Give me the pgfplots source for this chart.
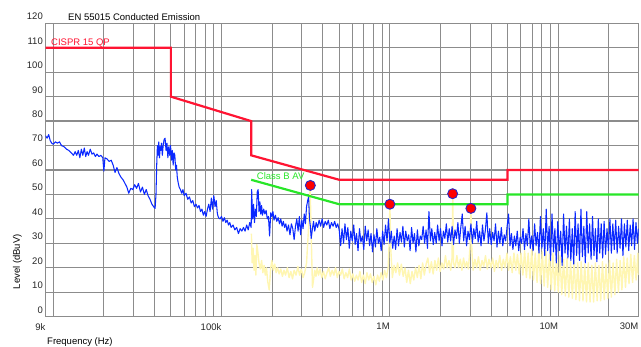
\documentclass[border=0pt]{standalone}
\usepackage{pgfplots}
\pgfplotsset{compat=1.18}
\usepackage{pgfplotstable}
\usepackage{fontspec}
\setmainfont{Liberation Sans}
\definecolor{limred}{RGB}{255,20,50}
\definecolor{limgreen}{RGB}{40,230,40}
\definecolor{trblue}{RGB}{10,40,255}
\definecolor{tryellow}{RGB}{255,246,178}
\definecolor{gridgray}{RGB}{140,140,140}
\definecolor{mkblue}{RGB}{40,40,200}

% frequency in kHz, level in dBuV
\pgfplotstableread{
f L
9 74
9.2 73
9.4 74.5
9.6 72
9.8 71
10.0 70.5
10.3 71.5
10.6 71
10.9 71.5
11.2 70
11.6 69.5
12.0 68.5
12.4 68
12.8 67
13.2 66
13.5 67.5
13.8 66
14.1 68
14.4 65
14.7 68.5
15.0 66
15.3 69
15.6 65.5
15.9 67.5
16.2 66
16.6 68.5
17.0 66.5
17.4 67
17.8 65.5
18.2 66.5
18.7 65.5
19.2 66
19.7 65
20.0 59.5
20.3 65
20.9 64.5
21.5 63.5
22.1 64
22.7 62
23.3 59
23.9 61
24.6 58.5
25.3 57
26.0 56
26.7 54.5
27.4 53
28.1 50.5
28.9 52.5
29.7 52
30.5 54
31.3 52.5
32.1 54.5
33.0 51
33.9 53
34.8 50
35.7 52
36.6 49.5
37.6 48
38.6 46
39.5 45
40.3 44.3
40.8 50
41.2 62
41.6 70
42.0 66
42.4 71.5
42.8 65
43.2 69.5
43.6 68
44.0 71
44.5 66
45.0 70
45.6 72.5
46.2 73
46.8 68
47.4 71
48.0 65
48.6 69.5
49.2 66
49.8 70
50.4 64
51.0 68
51.6 62
52.2 67
52.8 66
53.4 60
54.0 62
54.6 57
55.2 55
56.0 53
57.0 52
58.0 50.5
59.0 52
60.0 49.5
61.5 50.5
63.0 48
64.5 49
66.0 46.5
67.5 47.5
69.0 45
70.5 46
72.0 44.5
73.5 45.5
75.0 43
76.5 44
78.0 41.5
79.5 43
81.0 41
82.5 44
84.0 46
85.5 43
87.0 48.5
88.5 44
90.0 49.5
91.5 45
93.0 47.5
94.5 42
96.0 40.5
98.0 40
100 41
102 39
104 40.5
106 38.5
108 39.5
110 37.5
112 38.5
114 36.5
117 37.5
120 35.5
123 36.5
126 34
129 36
132 35
135 36.5
138 35
141 37.5
144 35.5
147 38.5
150 36.5
151 52
153 40
155 46
157 38.5
159 44
161 41
163 51
165 52
167 43
169 47
171 42
173 45.5
175 41.5
178 44
181 42
184 43.5
187 40
190 41
193 33
196 42.5
199 41
202 43
205 39.5
209 41.5
213 39
217 40.5
221 38
225 40
229 37
233 39
237 36.5
241 38
245 35
250 37.5
255 33.5
260 38
265 36
270 31.5
275 37
280 40
285 35
290 41
295 33.5
300 39.5
305 36
310 42
315 38
320 45
325 47.5
329 49
333 40
337 37
341 32
346 35.5
352 39
358 35
365 38.5
372 36.5
380 39.5
388 37
396 40
404 36.5
413 39
422 37.5
431 39.5
440 36
450 38.5
460 37
470 39
480 36.5
490 38
500 35.5
510 29
520 36
531 30
541 38
552 31.5
563 36.5
574 28
586 35
598 31
610 37.5
622 29.5
634 34
647 27
660 36
673 30.5
687 33
700 27.5
714 37
729 31
743 35.5
758 29
773 34
789 26.5
805 33.5
821 28.5
837 36
854 30
871 32.5
888 27
906 35
924 29.5
943 37.5
962 31
981 40
1000 30
1020 35
1040 28
1061 33
1082 27.5
1104 36
1126 29
1149 34.5
1172 30.5
1195 37
1219 28.5
1243 35
1268 31
1294 33.5
1319 27
1346 36.5
1373 30
1400 34
1428 26.5
1457 35.5
1486 29
1516 33
1546 31.5
1577 37
1608 30
1641 35.5
1673 28
1707 43
1741 31
1776 36
1811 29.5
1848 34.5
1885 30
1922 37.5
1961 31
2000 36
2040 29
2081 35
2122 32
2165 38
2208 30.5
2252 36
2297 31
2343 37
2390 29.5
2438 35.5
2487 32
2536 38.5
2587 30
2639 36.5
2692 42
2745 31
2800 37
2856 29
2913 35
2972 31.5
3031 38
3092 30
3153 36
3216 32
3281 39
3346 30.5
3413 35
3482 29
3551 37.5
3622 31
3695 35.5
3769 42.5
3844 30
3921 36
4000 29.5
4080 34.5
4161 31
4245 38
4330 28.5
4416 35
4505 30
4595 36.5
4687 29
4780 33.5
4876 31
4973 37
5073 42
5174 29
5278 34
5383 27.5
5491 33
5601 29
5713 35
5827 27
5944 32.5
6062 30
6184 36
6307 27.5
6433 34
6562 29
6693 40
6827 28
6964 33
7103 27
7245 38
7390 29
7538 34.5
7689 26
7842 41
7999 28
8159 36
8322 25
8489 44
8659 27
8832 37
9009 23
9189 42
9373 26.5
9560 36
9751 22
9946 39
10145 27
10348 35
10555 21
10766 42
10982 26
11201 37
11425 24
11654 40
11887 23
12125 36
12367 21.5
12615 43
12867 25
13124 38
13387 23
13654 44
13928 24.5
14206 37
14490 22
14780 43
15076 26
15377 38
15685 23.5
15998 41
16318 25
16645 36
16977 22.5
17317 40
17663 26
18017 38
18377 24
18744 39
19119 25.5
19502 36
19892 27
20290 40
20696 26
21109 38
21532 27.5
21962 39.5
22402 26
22850 37
23307 28
23773 40
24248 25
24733 38
25228 28.5
25733 39.5
26247 27
26772 37.5
27308 29
27854 40
28411 27.5
28979 38.5
29559 30
30000 36
}\bluetrace

\pgfplotstableread{
f L
150.5 34
152 22
154 28
156 19
158 25
160 17
162 29.5
164 27
167 22
170 19.5
173 23
176 18
179 21
182 17
185 20
188 14.5
192 11
196 20
199 23
203 19
207 21.5
211 18
215 20
220 17.5
225 19.5
230 16.5
235 19
240 17
246 20
252 16
258 18.5
264 15.5
270 19
277 17
284 20.5
291 17
298 19.5
305 16
312 18
320 22
328 35
336 53
342 30
347 12
352 15
358 19
364 16.5
370 20
377 17
385 19.5
394 16
403 18.5
413 15.5
423 18
433 20
443 16.5
454 19
465 17
476 20
487 16
498 18.5
510 17
522 19.5
535 15.5
548 18
561 16
575 19.5
589 15
603 17.5
618 14.5
633 17
648 15
664 18.5
680 14
697 17
714 13.5
731 18
749 15
767 17.5
786 14
805 16.5
825 13
845 17
866 14.5
887 18
909 15
931 19
954 16
977 20
990 30
1000 46
1012 28
1035 16
1060 21
1085 18
1112 22
1140 17
1170 21.5
1200 16.5
1230 20
1260 14
1290 19
1322 13.5
1354 18.5
1387 15
1421 20
1456 16
1491 21
1528 15.5
1565 22
1603 17
1642 21.5
1682 24
1723 18
1765 22.5
1808 17.5
1852 23
1897 19
1943 24
1990 18.5
2039 22
2088 19.5
2139 25
2191 20
2245 23
2299 19
2340 24
2365 50
2390 22
2440 20
2500 25
2560 20
2620 23.5
2680 19
2740 24
2800 20
2860 22.5
2930 19.5
2990 28
3030 44
3070 27
3120 19
3200 23.5
3280 20
3360 24.5
3440 19
3530 23
3610 20.5
3700 25
3790 19.5
3880 23.5
3980 20
4080 24
4180 18.5
4280 23
4390 20
4500 25
4610 19
4720 23.5
4840 20
4960 26
5080 19
5200 24.5
5330 18
5460 26
5600 19
5730 25.5
5870 17.5
6020 26
6170 17
6320 27
6470 16
6630 26
6800 15.5
6960 27.5
7130 15
7310 26
7490 14
7670 28
7860 13.5
8050 26.5
8250 12.5
8450 27
8660 12
8870 25.5
9090 11
9310 26
9540 10.5
9770 24.5
10010 10
10250 25
10500 9
10760 23.5
11020 8.5
11290 24
11570 8
11850 22.5
12140 7.5
12440 23
12750 7
13060 22
13380 6.5
13700 22.5
14040 6.5
14380 21.5
14730 6
15090 22
15460 6
15840 21
16230 6
16630 22
17040 6.5
17460 21
17890 6.5
18330 22.5
18780 7
19240 21.5
19710 7.5
20190 23
20690 8
21190 22
21710 9
22240 23.5
22790 10
23350 23
23920 11
24510 24.5
25110 12
25720 24
26350 13.5
27000 25.5
27660 14
28340 25
29030 15
29740 26
30000 17
}\yellowtrace

\newcommand{\lblfont}{\fontsize{9.5bp}{11bp}\selectfont}

\begin{document}
\begin{tikzpicture}
\path[use as bounding box] (-45.5bp,-30.3bp) rectangle (595.5bp,316.7bp);
\begin{axis}[
  at={(0,0)}, anchor=south west,
  scale only axis, width=593bp, height=293.4bp,
  xmode=log, xmin=9, xmax=30000, ymin=0, ymax=120,
  xtick={9,100,1000,10000,30000},
  xticklabels={9k,100k,1M,10M,30M},
  minor xtick={10,20,30,40,50,60,70,80,90,200,300,400,500,600,700,800,900,2000,3000,4000,5000,6000,7000,8000,9000,20000},
  ytick={0,10,20,30,40,50,60,70,80,90,100,110,120},
  grid=both,
  major grid style={gridgray, line width=1.2bp},
  minor grid style={gridgray, line width=1.2bp},
  axis line style={gridgray, line width=1.2bp},
  major tick length=0pt, minor tick length=0pt,
  tick label style={font=\lblfont, text=black!85, inner sep=0pt},
  xticklabel style={anchor=north east, yshift=-6.3bp},
  yticklabel style={anchor=south east, xshift=-2.5bp, yshift=3.3bp},
  /pgf/number format/assume math mode=true,
  clip=true,
]
\addplot[tryellow, line width=1.4bp, line join=round] table[x=f, y=L] {\yellowtrace};
\addplot[trblue, line width=1.05bp, line join=round] table[x=f, y=L] {\bluetrace};
\addplot[limred, line width=2.2bp] coordinates {(9,110) (50,110) (50,90) (150,80) (150,66) (500,56) (5000,56) (5000,60) (30000,60)};
\addplot[limgreen, line width=2.2bp] coordinates {(150,56) (500,46) (5000,46) (5000,50) (30000,50)};
\addplot[only marks, mark=*, mark size=5bp, mark options={fill=red, draw=mkblue, line width=0.9bp}] coordinates {(337,53.7) (1000,46.0) (2360,50.3) (3030,44.3)};
\node[anchor=base west, inner sep=0pt, text=limred, font=\lblfont] at (axis cs:9.7,111) {CISPR 15 QP};
\node[anchor=base west, inner sep=0pt, text=limgreen, font=\lblfont] at (axis cs:162,56.2) {Class B AV};
\end{axis}
\node[anchor=base west, inner sep=0pt, font=\lblfont] at (22.5bp,296bp) {EN 55015 Conducted Emission};
\node[anchor=base west, inner sep=0pt, font=\lblfont] at (1.5bp,-28bp) {Frequency (Hz)};
\node[rotate=90, inner sep=0pt, font=\lblfont] at (-28bp,55bp) {Level (dBuV)};
\end{tikzpicture}
\end{document}
